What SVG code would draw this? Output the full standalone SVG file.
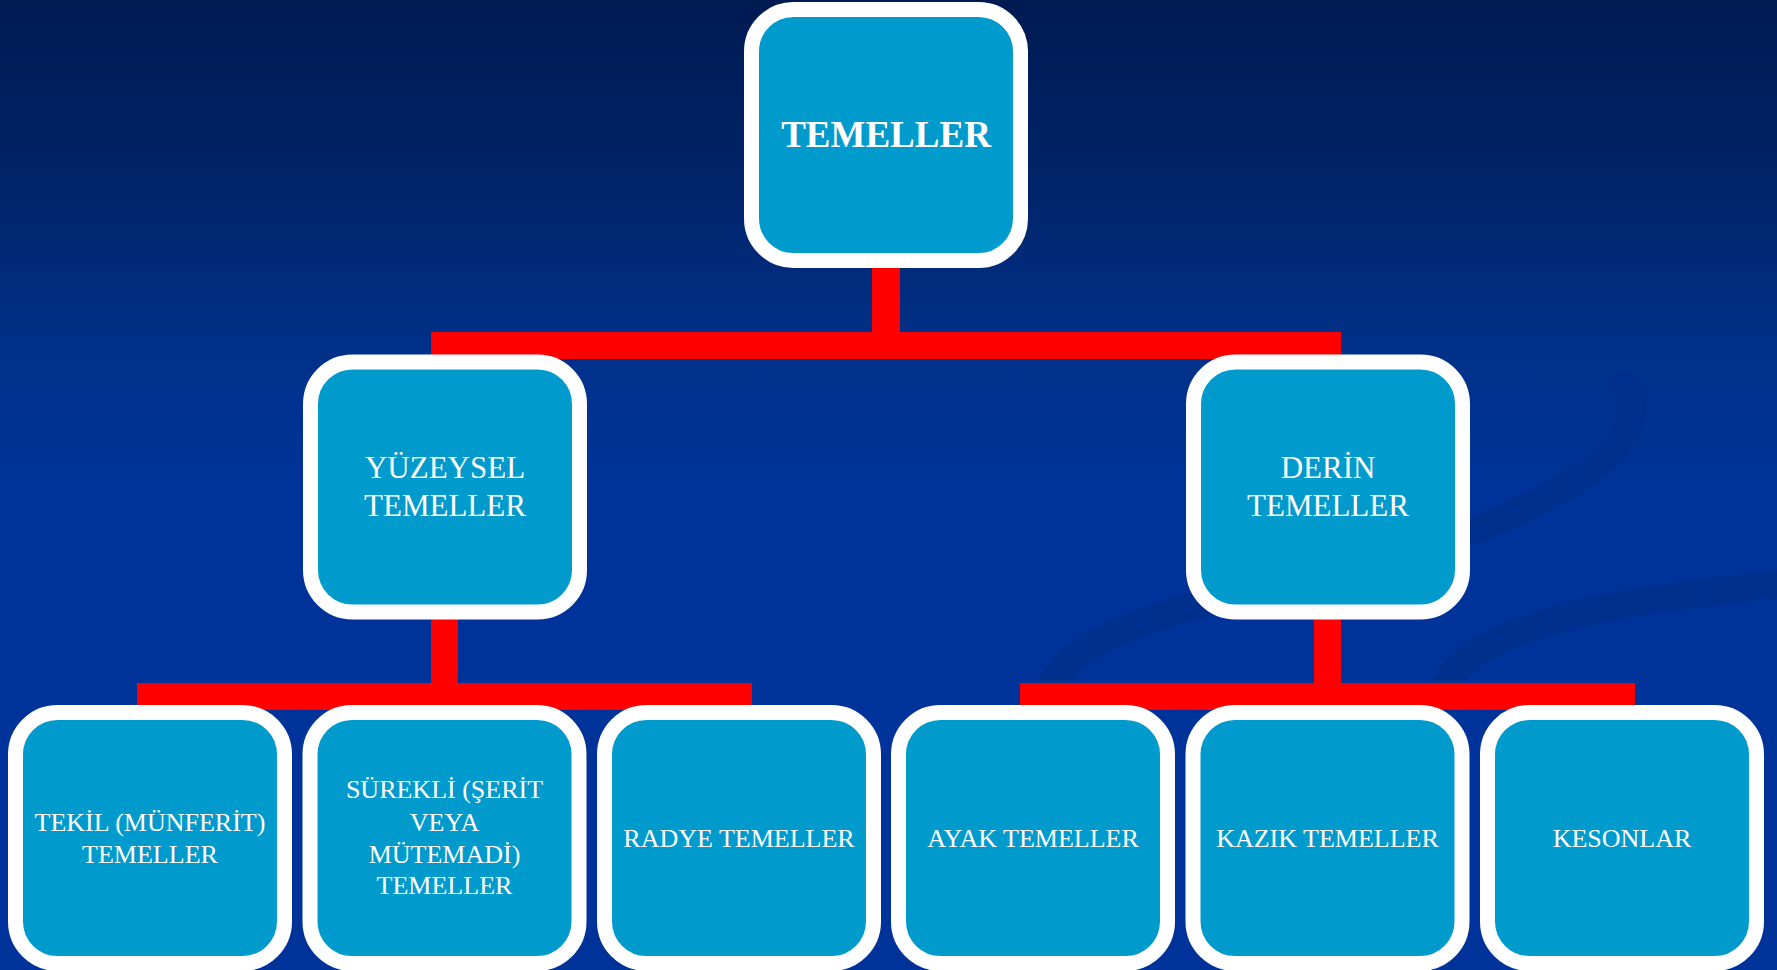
<svg xmlns="http://www.w3.org/2000/svg" width="1777" height="970" viewBox="0 0 1777 970">
<defs>
<linearGradient id="bg" x1="0" y1="0" x2="0" y2="1">
<stop offset="0" stop-color="#001a52"/>
<stop offset="0.18" stop-color="#002468"/>
<stop offset="0.36" stop-color="#003189"/>
<stop offset="0.5" stop-color="#003399"/>
<stop offset="1" stop-color="#003399"/>
</linearGradient>
<style>
.box{fill:#009bcc;stroke:#ffffff;stroke-width:15}
.bar{fill:#ff0000}
.swoosh{fill:none;stroke:#00308e;stroke-width:28;stroke-linecap:round}
text{font-family:"Liberation Serif","Times New Roman",serif;fill:#ffffff;text-anchor:middle}
.t0{font-size:37px;font-weight:bold}
.t1{font-size:31px}
.t2{font-size:26px}
</style>
</defs>
<rect x="0" y="0" width="1777" height="970" fill="url(#bg)"/>
<g id="background-decor">
<path class="swoosh" d="M1045 700 C1060 640 1160 610 1300 580 C1420 555 1520 520 1590 470 C1630 440 1640 410 1625 385"/>
<path class="swoosh" d="M1440 700 C1450 650 1520 625 1620 605 C1680 594 1740 588 1790 583"/>
</g>
<g id="connectors">
<rect class="bar" x="872" y="255" width="28" height="90"/>
<rect class="bar" x="431" y="332" width="910" height="27"/>
<rect class="bar" x="431" y="600" width="27" height="100"/>
<rect class="bar" x="137" y="683" width="615" height="27"/>
<rect class="bar" x="1314" y="600" width="27" height="100"/>
<rect class="bar" x="1020" y="683" width="615" height="27"/>
</g>
<g id="node-temeller">
<rect class="box" x="751.5" y="9.5" width="269" height="251" rx="42"/>
<text class="t0" x="886" y="147">TEMELLER</text>
</g>
<g id="node-yuzeysel">
<rect class="box" x="310.5" y="362" width="269" height="250" rx="42"/>
<text class="t1" x="445" y="478">YÜZEYSEL</text>
<text class="t1" x="445" y="516">TEMELLER</text>
</g>
<g id="node-derin">
<rect class="box" x="1193.5" y="362" width="269" height="250" rx="42"/>
<text class="t1" x="1328" y="478">DERİN</text>
<text class="t1" x="1328" y="516">TEMELLER</text>
</g>
<g id="node-tekil">
<rect class="box" x="15.5" y="712.5" width="269" height="251" rx="42"/>
<text class="t2" x="150" y="831">TEKİL (MÜNFERİT)</text>
<text class="t2" x="150" y="863">TEMELLER</text>
</g>
<g id="node-surekli">
<rect class="box" x="310" y="712.5" width="269" height="251" rx="42"/>
<text class="t2" x="444.5" y="798">SÜREKLİ (ŞERİT</text>
<text class="t2" x="444.5" y="831">VEYA</text>
<text class="t2" x="444.5" y="863">MÜTEMADİ)</text>
<text class="t2" x="444.5" y="894">TEMELLER</text>
</g>
<g id="node-radye">
<rect class="box" x="604.5" y="712.5" width="269" height="251" rx="42"/>
<text class="t2" x="739" y="847">RADYE TEMELLER</text>
</g>
<g id="node-ayak">
<rect class="box" x="898.5" y="712.5" width="269" height="251" rx="42"/>
<text class="t2" x="1033" y="847">AYAK TEMELLER</text>
</g>
<g id="node-kazik">
<rect class="box" x="1193" y="712.5" width="269" height="251" rx="42"/>
<text class="t2" x="1327.5" y="847">KAZIK TEMELLER</text>
</g>
<g id="node-kesonlar">
<rect class="box" x="1487.5" y="712.5" width="269" height="251" rx="42"/>
<text class="t2" x="1622" y="847">KESONLAR</text>
</g>
</svg>
